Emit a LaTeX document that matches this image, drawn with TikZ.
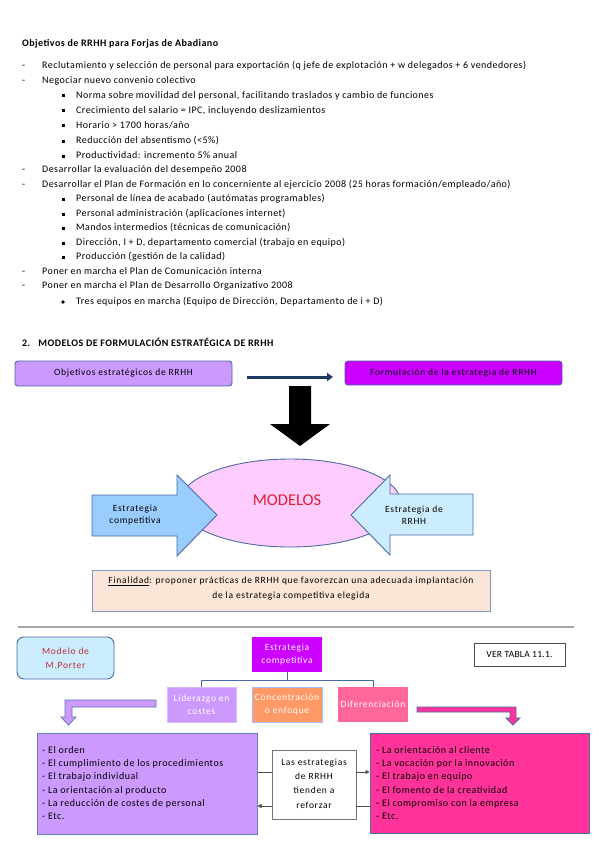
\documentclass[tikz,border=0pt]{standalone}
\usepackage{fontspec}
\setmainfont{Carlito}
\newfontfamily\lsA{Carlito}[LetterSpace=4.5]
\newfontfamily\lsB{Carlito}[LetterSpace=7.5]
\newfontfamily\lsC{Carlito}[LetterSpace=5.5]
\newfontfamily\lsD{Carlito}[LetterSpace=3]
\usetikzlibrary{arrows.meta,shapes.geometric}
\definecolor{lav}{HTML}{CC99FF}
\definecolor{mag}{HTML}{CC00FF}
\definecolor{bord}{HTML}{4A6AA5}
\definecolor{navyarr}{HTML}{1F3864}
\definecolor{lblue}{HTML}{99CCFF}
\definecolor{pblue}{HTML}{CCECFF}
\definecolor{pinkl}{HTML}{FFCCFF}
\definecolor{modred}{HTML}{E0202E}
\definecolor{peach}{HTML}{FBE5D6}
\definecolor{peachb}{HTML}{8098C8}
\definecolor{porterred}{HTML}{C0282E}
\definecolor{orangeb}{HTML}{FF9966}
\definecolor{pinkb}{HTML}{FF6699}
\definecolor{hotpink}{HTML}{FF3399}
\definecolor{rulegray}{HTML}{A6A6A6}
\tikzset{
  lst/.style={anchor=west, inner sep=0pt, text height=7pt, text depth=2.4pt, font=\lsA\fontsize{10}{12}\selectfont},
  sqb/.style={rectangle, fill=black, inner sep=0pt, minimum size=3pt},
  rdb/.style={circle, fill=black, inner sep=0pt, minimum size=3.6pt},
  box/.style={draw=bord, line width=0.9pt, inner sep=0pt, font=\lsB\fontsize{9.5}{11.5}\selectfont, align=center},
  sbox/.style={inner sep=0pt, font=\lsB\fontsize{9.5}{12.5}\selectfont, align=center, text=white},
  btxt/.style={anchor=west, inner sep=0pt, text height=7pt, text depth=2.4pt, font=\lsC\fontsize{10}{12}\selectfont},
  conn/.style={draw=black!70, line width=0.6pt},
  tree/.style={draw=bord, line width=1pt}
}
\begin{document}
\begin{tikzpicture}[x=1pt,y=-1pt]
\useasboundingbox (0,0) rectangle (599,848);
\fill[white] (0,0) rectangle (599,848);
% ---------- list ----------
\node[lst, font=\lsA\fontsize{10}{12}\selectfont\bfseries] (title) at (22,44) {Objetivos de RRHH para Forjas de Abadiano};
\node[lst] (d1) at (22,66) {-}; \node[lst] (l1) at (42,66) {Reclutamiento y selección de personal para exportación (q jefe de explotación + w delegados + 6 vendedores)};
\node[lst] (d2) at (22,81) {-}; \node[lst] (l2) at (42,81) {Negociar nuevo convenio colectivo};
\node[sqb] (b1) at (63,96) {}; \node[lst] (s1) at (76,96) {Norma sobre movilidad del personal, facilitando traslados y cambio de funciones};
\node[sqb] (b2) at (63,111) {}; \node[lst] (s2) at (76,111) {Crecimiento del salario = IPC, incluyendo deslizamientos};
\node[sqb] (b3) at (63,126) {}; \node[lst] (s3) at (76,126) {Horario > 1700 horas/año};
\node[sqb] (b4) at (63,141) {}; \node[lst] (s4) at (76,141) {Reducción del absentismo (<5\%)};
\node[sqb] (b5) at (63,156) {}; \node[lst] (s5) at (76,156) {Productividad: incremento 5\% anual};
\node[lst] (d3) at (22,170) {-}; \node[lst] (l3) at (42,170) {Desarrollar la evaluación del desempeño 2008};
\node[lst] (d4) at (22,185) {-}; \node[lst] (l4) at (42,185) {Desarrollar el Plan de Formación en lo concerniente al ejercicio 2008 (25 horas formación/empleado/año)};
\node[sqb] (b6) at (63,199) {}; \node[lst] (s6) at (76,199) {Personal de línea de acabado (autómatas programables)};
\node[sqb] (b7) at (63,214) {}; \node[lst] (s7) at (76,214) {Personal administración (aplicaciones internet)};
\node[sqb] (b8) at (63,228) {}; \node[lst] (s8) at (76,228) {Mandos intermedios (técnicas de comunicación)};
\node[sqb] (b9) at (63,243) {}; \node[lst] (s9) at (76,243) {Dirección, I + D, departamento comercial (trabajo en equipo)};
\node[sqb] (b10) at (63,257) {}; \node[lst] (s10) at (76,257) {Producción (gestión de la calidad)};
\node[lst] (d5) at (22,272) {-}; \node[lst] (l5) at (42,272) {Poner en marcha el Plan de Comunicación interna};
\node[lst] (d6) at (22,286) {-}; \node[lst] (l6) at (42,286) {Poner en marcha el Plan de Desarrollo Organizativo 2008};
\node[rdb] (b11) at (63,302) {}; \node[lst] (s11) at (76,302) {Tres equipos en marcha (Equipo de Dirección, Departamento de i + D)};
% ---------- section 2 ----------
\node[lst, font=\lsA\fontsize{10}{12}\selectfont\bfseries] (sec) at (22,344) {2.\hspace{8pt}MODELOS DE FORMULACIÓN ESTRATÉGICA DE RRHH};
\node[box, fill=lav, rounded corners=3pt, minimum width=217pt, minimum height=25pt] (obj) at (123.5,373.5) {Objetivos estratégicos de RRHH};
\node[box, fill=mag, rounded corners=3pt, minimum width=217pt, minimum height=24pt] (form) at (453.5,373) {Formulación de la estrategia de RRHH};
\coordinate (h1) at (247,377); \coordinate (h2) at (333,377);
\draw[navyarr, line width=3pt, -{Triangle[length=6pt,width=8pt]}] (h1) -- (h2);
\fill[black] (289,386) -- (311,386) -- (311,424) -- (330,424) -- (300,446) -- (270,424) -- (289,424) -- cycle;
\node[ellipse, draw=bord, line width=0.9pt, fill=pinkl, minimum width=222pt, minimum height=88pt] (ell) at (290,503) {};
\node[inner sep=0pt, text=modred, font=\fontsize{16.5}{18}\selectfont] (modelos) at (287,500) {MODELOS};
\draw[draw=bord, line width=0.9pt, fill=lblue] (92,495)--(177,495)--(177,475)--(217,515)--(177,556)--(177,536)--(92,536)--cycle;
\node[sbox, text=black] (ec) at (135,515) {Estrategia\\competitiva};
\draw[draw=bord, line width=0.9pt, fill=pblue] (473,494)--(390,494)--(390,475)--(351,515)--(390,555)--(390,535)--(473,535)--cycle;
\node[sbox, text=black] (er) at (414,515) {Estrategia de\\RRHH};
\node[draw=peachb, line width=1pt, fill=peach, minimum width=398pt, minimum height=41pt, inner sep=0pt] (fin) at (291,590.5) {};
\node[inner sep=0pt, font=\lsB\fontsize{9.5}{15}\selectfont, align=center] (fintxt) at (291,589) {\underline{Finalidad}: proponer prácticas de RRHH que favorezcan una adecuada implantación\\de la estrategia competitiva elegida};
% ---------- rule ----------
\coordinate (r1) at (18,627); \coordinate (r2) at (574,627);
\draw[rulegray, line width=1.6pt] (r1) -- (r2);
% ---------- Porter ----------
\node[box, fill=pblue, rounded corners=7pt, minimum width=97pt, minimum height=42pt, text=porterred, font=\lsB\fontsize{9.5}{13.5}\selectfont] (porter) at (65.5,658) {Modelo de\\M.Porter};
\node[sbox, fill=mag, minimum width=70pt, minimum height=35pt] (ecomp) at (287,654.5) {Estrategia\\competitiva};
\node[draw=black!70, line width=0.8pt, minimum width=91pt, minimum height=23pt, inner sep=0pt, font=\lsD\fontsize{9.5}{11}\selectfont] (ver) at (519.5,654.5) {VER TABLA 11.1.};
\node[sbox, fill=lav, draw=lav!70, minimum width=69pt, minimum height=35pt] (lid) at (201.5,704.5) {Liderazgo en\\costes};
\node[sbox, fill=orangeb, draw=pblue!80!blue, line width=0.8pt, minimum width=70pt, minimum height=35pt] (conc) at (287,704.5) {Concentración\\o enfoque};
\node[sbox, fill=pinkb, minimum width=70pt, minimum height=35pt] (dif) at (373,704.5) {Diferenciación};
\draw[tree] (ecomp.south) -- (287,680);
\draw[tree] (lid.north) -- (201.5,680) -- (373,680) -- (dif.north);
% bent arrows
\draw[draw=bord!80!lav, line width=0.8pt, fill=lav] (156,700)--(65,700)--(65,717)--(61,717)--(68.5,725)--(76,717)--(72,717)--(72,707)--(156,707)--cycle;
\draw[draw=bord, line width=0.8pt, fill=hotpink] (417,707)--(516,707)--(516,718)--(520,718)--(513,725)--(506,718)--(510,718)--(510,712)--(417,712)--cycle;
% ---------- bottom boxes ----------
\node[draw=bord!85!white, line width=1pt, fill=lav, minimum width=220pt, minimum height=101pt, inner sep=0pt] (lbox) at (147,783.5) {};
\node[draw=bord, line width=1pt, fill=hotpink, minimum width=219pt, minimum height=100pt, inner sep=0pt] (rbox) at (479.5,783) {};
\node[draw=black!55, line width=0.8pt, fill=white, minimum width=84pt, minimum height=69pt, inner sep=0pt] (mid) at (314,784.5) {};
\node[inner sep=0pt, font=\lsB\fontsize{9.5}{14.3}\selectfont, align=center] (midtxt) at (314,783.5) {Las estrategias\\de RRHH\\tienden a\\reforzar};
\node[btxt] (lt1) at (42,751) {- El orden};
\node[btxt] (lt2) at (42,764.3) {- El cumplimiento de los procedimientos};
\node[btxt] (lt3) at (42,777.6) {- El trabajo individual};
\node[btxt] (lt4) at (42,791) {- La orientación al producto};
\node[btxt] (lt5) at (42,804.3) {- La reducción de costes de personal};
\node[btxt] (lt6) at (42,817.6) {- Etc.};
\node[btxt] (rt1) at (376,751) {- La orientación al cliente};
\node[btxt] (rt2) at (376,764.3) {- La vocación por la innovación};
\node[btxt] (rt3) at (376,777.6) {- El trabajo en equipo};
\node[btxt] (rt4) at (376,791) {- El fomento de la creatividad};
\node[btxt] (rt5) at (376,804.3) {- El compromiso con la empresa};
\node[btxt] (rt6) at (376,817.6) {- Etc.};
\draw[conn] (lbox.east |- 0,772) -- (mid.west |- 0,772);
\draw[conn, -{Triangle[length=4pt,width=4pt]}] (mid.east |- 0,772) -- (rbox.west |- 0,772);
\draw[conn] (rbox.west |- 0,806) -- (mid.east |- 0,806);
\draw[conn, -{Triangle[length=4pt,width=4pt]}] (mid.west |- 0,806) -- (lbox.east |- 0,806);
\end{tikzpicture}
\end{document}
